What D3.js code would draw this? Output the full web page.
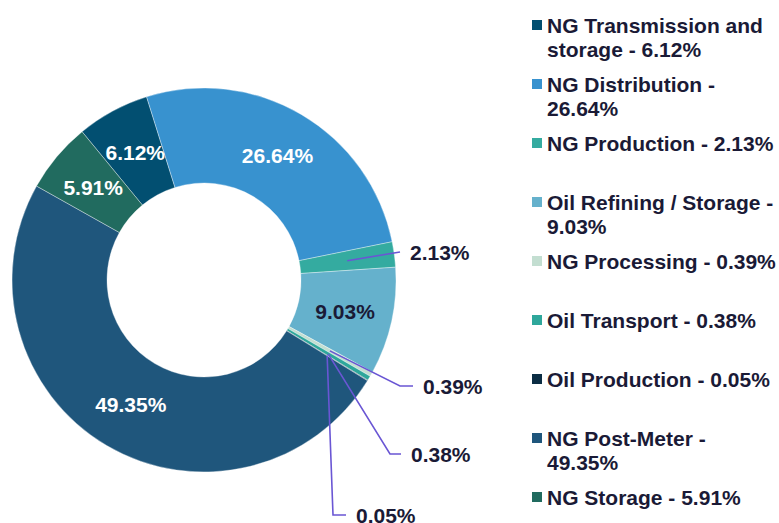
<!DOCTYPE html>
<html>
<head>
<meta charset="utf-8">
<script src="https://cdn.jsdelivr.net/npm/d3@7"></script>
<style>
  body { margin: 0; background: #fff; }
  text { font-family: "Liberation Sans", Arial, sans-serif; font-weight: bold; }
</style>
</head>
<body>
<svg id="chart" width="779" height="523"></svg>
<script>
// data, in legend order (also the drawing order, clockwise)
var categories = [
  "NG Transmission and storage",
  "NG Distribution",
  "NG Production",
  "Oil Refining / Storage",
  "NG Processing",
  "Oil Transport",
  "Oil Production",
  "NG Post-Meter",
  "NG Storage"
];
var shares = [6.12, 26.64, 2.13, 9.03, 0.39, 0.38, 0.05, 49.35, 5.91];
var legendLines = [
  ["NG Transmission and", "storage - 6.12%"],
  ["NG Distribution -", "26.64%"],
  ["NG Production - 2.13%"],
  ["Oil Refining / Storage -", "9.03%"],
  ["NG Processing - 0.39%"],
  ["Oil Transport - 0.38%"],
  ["Oil Production - 0.05%"],
  ["NG Post-Meter -", "49.35%"],
  ["NG Storage - 5.91%"]
];
var colors = ["#024f71", "#3892cf", "#34aba0", "#65b1cc", "#c3ded1",
              "#2ea79b", "#0b2d44", "#1f567c", "#216b5f"];

// label placement: "in" = on the slice, otherwise a callout (label end offset from center)
var labelMode = ["in", "in", "out", "in", "out", "out", "out", "in", "in"];
var insideFill = ["#fff", "#fff", null, "#1a1a36", null, null, null, "#fff", "#fff"];
var calloutOffset = [null, null, [196, -28], null, [209, 106], [197, 174], [142, 235], null, null];
var calloutElbow = [null, null, 196, null, 196, 186, 129, null, null];

var svg = d3.select("#chart");
var cx = 204, cy = 280, outerR = 192, innerR = 97;
var textColor = "#1a1a36", leaderColor = "#6a56d4";

var color = d3.scaleOrdinal().domain(categories).range(colors);

// first slice starts so that the Transmission/Distribution edge sits at about -17.4deg
var start = (-17.4 / 360) * 2 * Math.PI - (shares[0] / 100) * 2 * Math.PI;

var pie = d3.pie().sort(null).value(function (d) { return d; })
  .startAngle(start).endAngle(start + 2 * Math.PI);
var arcs = pie(shares);
var arc = d3.arc().innerRadius(innerR).outerRadius(outerR);

var g = svg.append("g").attr("transform", "translate(" + cx + "," + cy + ")");

g.selectAll(".slice")
  .data(arcs)
  .enter()
  .append("path")
  .attr("class", "slice")
  .attr("d", arc)
  .attr("fill", function (d, i) { return color(categories[i]); })
  .attr("stroke", "#ffffff")
  .attr("stroke-opacity", 0.6)
  .attr("stroke-width", 0.6);

// inside labels
g.selectAll(".in-label")
  .data(arcs.filter(function (d, i) { return labelMode[i] === "in"; }))
  .enter()
  .append("text")
  .attr("class", "in-label")
  .attr("transform", function (d) {
    var c = arc.centroid(d);
    return "translate(" + c[0] + "," + c[1] + ")";
  })
  .attr("text-anchor", "middle")
  .attr("dy", "0.36em")
  .attr("font-size", 21)
  .attr("fill", function (d) { return insideFill[d.index]; })
  .text(function (d) { return d.value.toFixed(2) + "%"; });

// callouts
var outs = arcs.filter(function (d, i) { return labelMode[i] === "out"; });
var leader = d3.line();
g.selectAll(".leader")
  .data(outs)
  .enter()
  .append("path")
  .attr("class", "leader")
  .attr("fill", "none")
  .attr("stroke", leaderColor)
  .attr("stroke-width", 1.6)
  .attr("d", function (d) {
    var c = arc.centroid(d);
    var o = calloutOffset[d.index];
    return leader([c, [calloutElbow[d.index], o[1]], [o[0], o[1]]]);
  });

g.selectAll(".out-label")
  .data(outs)
  .enter()
  .append("text")
  .attr("class", "out-label")
  .attr("x", function (d) { return calloutOffset[d.index][0] + 10; })
  .attr("y", function (d) { return calloutOffset[d.index][1]; })
  .attr("dy", "0.36em")
  .attr("font-size", 21)
  .attr("fill", textColor)
  .text(function (d) { return d.value.toFixed(2) + "%"; });

// legend
var ly = d3.scaleLinear().domain([0, categories.length - 1]).range([25, 497]);
var legend = svg.append("g").attr("class", "legend");
var items = legend.selectAll(".item")
  .data(categories)
  .enter()
  .append("g")
  .attr("class", "item")
  .attr("transform", function (d, i) { return "translate(532," + ly(i) + ")"; });

items.append("rect")
  .attr("x", 0)
  .attr("y", -5)
  .attr("width", 10)
  .attr("height", 10)
  .attr("fill", function (d) { return color(d); });

items.append("text")
  .attr("x", 15)
  .attr("y", 0)
  .attr("font-size", 21)
  .attr("fill", textColor)
  .selectAll("tspan")
  .data(function (d, i) { return legendLines[i]; })
  .enter()
  .append("tspan")
  .attr("x", 15)
  .attr("dy", function (d, j) { return j === 0 ? "0.36em" : "1.15em"; })
  .text(function (d) { return d; });
</script>
</body>
</html>
